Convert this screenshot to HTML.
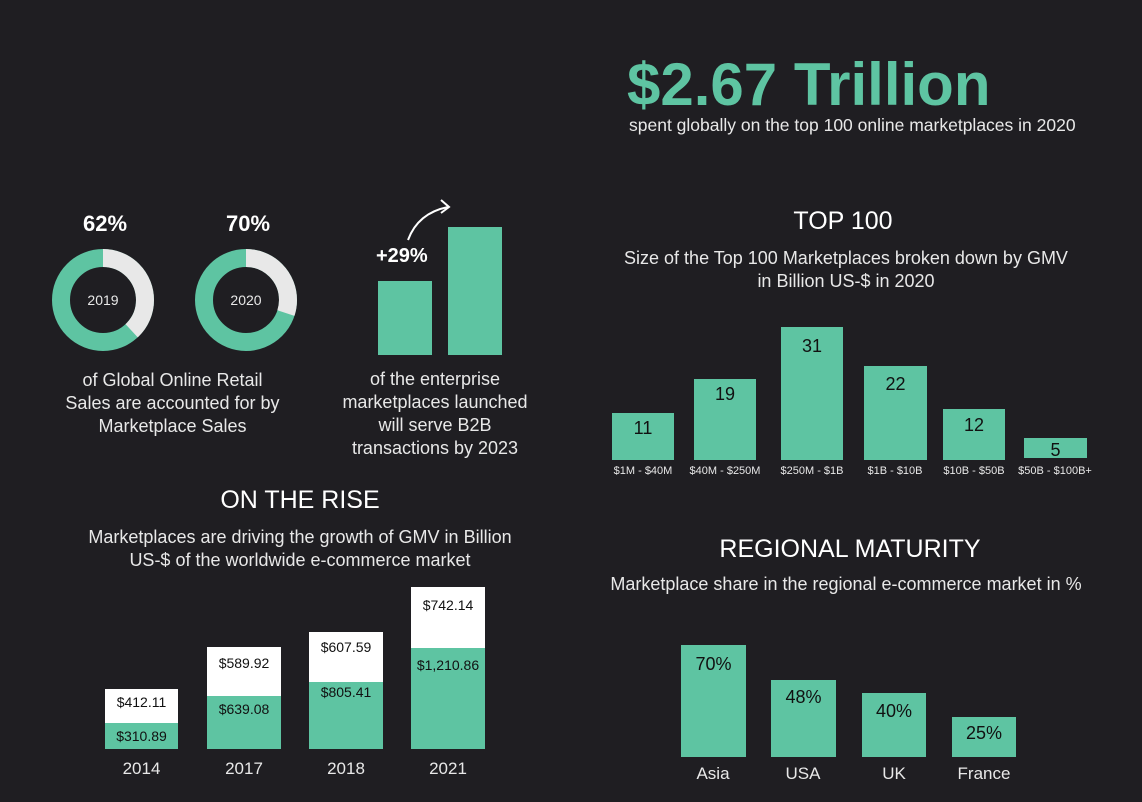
<!DOCTYPE html><html><head><style>
body{margin:0;width:1142px;height:802px;background:#1f1e22;position:relative;overflow:hidden;font-family:"Liberation Sans",sans-serif;color:#e8e8e8}
.a{position:absolute}
.g{position:absolute;background:#5ec4a2}
.w{position:absolute;background:#fff}
.c{position:absolute;text-align:center;white-space:nowrap}
.n{color:#111;font-size:18px}
.s{color:#111;font-size:14px}
</style></head><body>
<div class="a" style="left:627px;top:50px;font-size:60px;color:#5ec4a2;font-weight:bold">$2.67 Trillion</div>
<div class="a" style="left:629px;top:115px;font-size:17.5px">spent globally on the top 100 online marketplaces in 2020</div>

<div class="c" style="left:53px;width:104px;top:211px;font-size:22px;font-weight:bold;color:#fff">62%</div>
<div class="c" style="left:196px;width:104px;top:211px;font-size:22px;font-weight:bold;color:#fff">70%</div>
<svg class="a" style="left:0;top:0" width="320" height="360">
<g transform="rotate(-90 103 300)"><circle cx="103" cy="300" r="42" fill="none" stroke="#5ec4a2" stroke-width="18"/>
<circle cx="103" cy="300" r="42" fill="none" stroke="#e8e8e8" stroke-width="18" stroke-dasharray="100.3 500"/></g>
<g transform="rotate(-90 246 300)"><circle cx="246" cy="300" r="42" fill="none" stroke="#5ec4a2" stroke-width="18"/>
<circle cx="246" cy="300" r="42" fill="none" stroke="#e8e8e8" stroke-width="18" stroke-dasharray="79.2 500"/></g>
</svg>
<div class="c" style="left:53px;width:100px;top:292px;font-size:14px">2019</div>
<div class="c" style="left:196px;width:100px;top:292px;font-size:14px">2020</div>
<div class="c" style="left:40px;width:265px;top:369px;font-size:18px;line-height:23px">of Global Online Retail<br>Sales are accounted for by<br>Marketplace Sales</div>

<div class="g" style="left:378px;top:281px;width:54px;height:74px"></div>
<div class="g" style="left:448px;top:227px;width:54px;height:128px"></div>
<div class="a" style="left:376px;top:245px;font-size:20px;font-weight:bold;color:#fff">+29%</div>
<svg class="a" style="left:400px;top:195px" width="60" height="50"><path d="M8 45 Q18 18 48 12" fill="none" stroke="#fff" stroke-width="2"/><path d="M41 5 L49 12 L41 18" fill="none" stroke="#fff" stroke-width="2"/></svg>
<div class="c" style="left:320px;width:230px;top:368px;font-size:18px;line-height:23px">of the enterprise<br>marketplaces launched<br>will serve B2B<br>transactions by 2023</div>

<div class="c" style="left:150px;width:300px;top:486px;font-size:25px;color:#fff">ON THE RISE</div>
<div class="c" style="left:40px;width:520px;top:526px;font-size:18px;line-height:23px">Marketplaces are driving the growth of GMV in Billion<br>US-$ of the worldwide e-commerce market</div>

<div class="w" style="left:105px;top:689px;width:73px;height:34px"></div><div class="g" style="left:105px;top:723px;width:73px;height:26px"></div>
<div class="c s" style="left:105px;width:73px;top:694px">$412.11</div><div class="c s" style="left:105px;width:73px;top:728px">$310.89</div>
<div class="w" style="left:207px;top:647px;width:74px;height:49px"></div><div class="g" style="left:207px;top:696px;width:74px;height:53px"></div>
<div class="c s" style="left:207px;width:74px;top:655px">$589.92</div><div class="c s" style="left:207px;width:74px;top:701px">$639.08</div>
<div class="w" style="left:309px;top:632px;width:74px;height:50px"></div><div class="g" style="left:309px;top:682px;width:74px;height:67px"></div>
<div class="c s" style="left:309px;width:74px;top:639px">$607.59</div><div class="c s" style="left:309px;width:74px;top:684px">$805.41</div>
<div class="w" style="left:411px;top:587px;width:74px;height:61px"></div><div class="g" style="left:411px;top:648px;width:74px;height:101px"></div>
<div class="c s" style="left:411px;width:74px;top:597px">$742.14</div><div class="c s" style="left:411px;width:74px;top:657px">$1,210.86</div>
<div class="c" style="left:105px;width:73px;top:759px;font-size:17px">2014</div>
<div class="c" style="left:207px;width:74px;top:759px;font-size:17px">2017</div>
<div class="c" style="left:309px;width:74px;top:759px;font-size:17px">2018</div>
<div class="c" style="left:411px;width:74px;top:759px;font-size:17px">2021</div>

<div class="c" style="left:693px;width:300px;top:207px;font-size:25px;color:#fff">TOP 100</div>
<div class="c" style="left:596px;width:500px;top:247px;font-size:18px;line-height:23px">Size of the Top 100 Marketplaces broken down by GMV<br>in Billion US-$ in 2020</div>
<div class="g" style="left:612px;top:413px;width:62px;height:47px"></div><div class="c n" style="left:612px;width:62px;top:418px">11</div>
<div class="g" style="left:694px;top:379px;width:62px;height:81px"></div><div class="c n" style="left:694px;width:62px;top:384px">19</div>
<div class="g" style="left:781px;top:327px;width:62px;height:133px"></div><div class="c n" style="left:781px;width:62px;top:336px">31</div>
<div class="g" style="left:864px;top:366px;width:63px;height:94px"></div><div class="c n" style="left:864px;width:63px;top:374px">22</div>
<div class="g" style="left:943px;top:409px;width:62px;height:51px"></div><div class="c n" style="left:943px;width:62px;top:415px">12</div>
<div class="g" style="left:1024px;top:438px;width:63px;height:20px"></div><div class="c n" style="left:1024px;width:63px;top:440px">5</div>
<div class="c" style="left:603px;width:80px;top:465px;font-size:11px">$1M - $40M</div>
<div class="c" style="left:675px;width:100px;top:465px;font-size:11px">$40M - $250M</div>
<div class="c" style="left:762px;width:100px;top:465px;font-size:11px">$250M - $1B</div>
<div class="c" style="left:845px;width:100px;top:465px;font-size:11px">$1B - $10B</div>
<div class="c" style="left:924px;width:100px;top:465px;font-size:11px">$10B - $50B</div>
<div class="c" style="left:1005px;width:100px;top:465px;font-size:11px">$50B - $100B+</div>

<div class="c" style="left:650px;width:400px;top:535px;font-size:25px;color:#fff">REGIONAL MATURITY</div>
<div class="c" style="left:596px;width:500px;top:574px;font-size:18px">Marketplace share in the regional e-commerce market in %</div>
<div class="g" style="left:681px;top:645px;width:65px;height:112px"></div><div class="c n" style="left:681px;width:65px;top:654px">70%</div>
<div class="g" style="left:771px;top:680px;width:65px;height:77px"></div><div class="c n" style="left:771px;width:65px;top:687px">48%</div>
<div class="g" style="left:862px;top:693px;width:64px;height:64px"></div><div class="c n" style="left:862px;width:64px;top:701px">40%</div>
<div class="g" style="left:952px;top:717px;width:64px;height:40px"></div><div class="c n" style="left:952px;width:64px;top:723px">25%</div>
<div class="c" style="left:673px;width:80px;top:764px;font-size:17px">Asia</div>
<div class="c" style="left:763px;width:80px;top:764px;font-size:17px">USA</div>
<div class="c" style="left:854px;width:80px;top:764px;font-size:17px">UK</div>
<div class="c" style="left:944px;width:80px;top:764px;font-size:17px">France</div>
</body></html>
